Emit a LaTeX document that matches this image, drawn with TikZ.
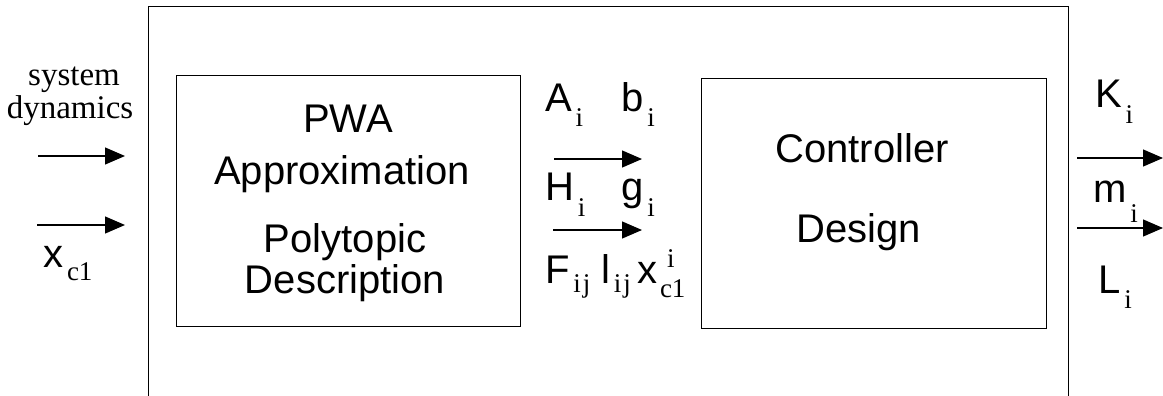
\documentclass[tikz,border=0pt]{standalone}
\usepackage{fontspec}
\setmainfont{Liberation Sans}
\newfontfamily\serifx{Liberation Serif}
\usetikzlibrary{arrows.meta}
\newcommand\subfs{\serifx\fontsize{27}{27}\selectfont}
\newcommand\lb[3][15pt]{#2\kern4pt\raisebox{-#1}{\subfs #3}}
\begin{document}
\begin{tikzpicture}[x=1pt,y=-1pt,inner sep=0pt,outer sep=0pt,
  box/.style={draw,line width=1pt},
  big/.style={font=\fontsize{40}{40}\selectfont,anchor=base west},
  bigc/.style={font=\fontsize{40}{40}\selectfont,anchor=base},
  serlbl/.style={font=\serifx\fontsize{33}{33}\selectfont,anchor=base},
  arr/.style={line width=1.2pt,-{Triangle[length=20pt,width=17pt]}}]
\useasboundingbox (0,0) rectangle (1163,396);
% outer frame (open at bottom)
\draw[line width=1pt] (148,396) -- (148,7) -- (1068,7) -- (1068,396);
% blocks
\node[box,minimum width=344pt,minimum height=250pt] (pwa) at (348,201) {};
\node[box,minimum width=345pt,minimum height=249pt] (ctl) at (873.5,203.5) {};
% block texts
\node[bigc] (t1) at (348,132) {PWA};
\node[bigc] (t2) at (342,184) {Approximation};
\node[bigc] (t3) at (345,252) {Polytopic};
\node[bigc] (t4) at (345,293) {Description};
\node[bigc] (t5) at (862,162) {Controller};
\node[bigc] (t6) at (859,242) {Design};
% left inputs
\node[serlbl] (sys) at (74,86) {system};
\node[serlbl] (dyn) at (70,118) {dynamics};
\node[big] (xc) at (43,267) {\lb[13pt]{x}{c1}};
\coordinate (l1a) at (38,156); \coordinate (l1b) at (125,156);
\coordinate (l2a) at (37,225); \coordinate (l2b) at (125,225);
\draw[arr] (l1a) -- (l1b);
\draw[arr] (l2a) -- (l2b);
% middle signals
\node[big] (ai) at (545,112) {\lb{A}{i}};
\node[big] (bi) at (621,112) {\lb{b}{i}};
\node[big] (hi) at (545,200) {\lb[16pt]{H}{i}};
\node[big] (gi) at (621,200) {\lb[16pt]{g}{i}};
\node[big] (fij) at (545,283) {\lb[9pt]{F}{i\kern2pt j}};
\node[big] (lij) at (601,283) {\lb[9pt]{l}{i\kern2pt j}};
\node[big] (xci) at (637,283) {x\kern3pt\rlap{\raisebox{-14pt}{\subfs c1}}\kern7pt\raisebox{16pt}{\subfs i}};
\coordinate (m1a) at (554,159); \coordinate (m1b) at (642,159);
\coordinate (m2a) at (553,230); \coordinate (m2b) at (642,230);
\draw[arr] (m1a) -- (m1b);
\draw[arr] (m2a) -- (m2b);
% right outputs
\node[big] (ki) at (1095,107) {\lb[16pt]{K}{i}};
\node[big] (mi) at (1093,202) {\lb[20pt]{m}{i}};
\node[big] (li) at (1098,293) {\lb[15pt]{L}{i}};
\coordinate (r1a) at (1077,158); \coordinate (r1b) at (1163,158);
\coordinate (r2a) at (1077,228); \coordinate (r2b) at (1163,228);
\draw[arr] (r1a) -- (r1b);
\draw[arr] (r2a) -- (r2b);
\end{tikzpicture}
\end{document}
